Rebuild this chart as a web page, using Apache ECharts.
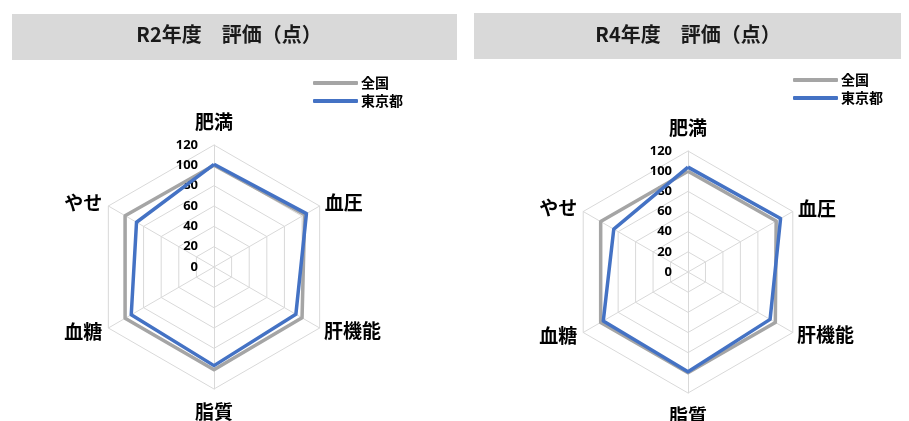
<!DOCTYPE html>
<html>
<head>
<meta charset="utf-8">
<script src="https://cdn.jsdelivr.net/npm/echarts@6.0.0/dist/echarts.min.js"></script>
<style>
  html, body { margin: 0; padding: 0; background: #fff; }
  #radar-chart { width: 909px; height: 421px; }
</style>
</head>
<body>
<div id="radar-chart"></div>
<script>
// categories listed clockwise from the top
var categories = ['肥満', '血圧', '肝機能', '脂質', '血糖', 'やせ'];
var seriesNames = ['全国', '東京都'];
var r2National = [100, 103, 100, 101, 101, 101];
var r2Tokyo = [101, 105, 93, 97, 94, 88];
var r4National = [100, 101, 100, 100, 100, 100];
var r4Tokyo = [104, 106, 94, 99, 97, 85];
var tickLabels = ['0', '20', '40', '60', '80', '100', '120'];
var titles = ['R2年度　評価（点）', 'R4年度　評価（点）'];

var fontJP = '"Noto Sans CJK JP", "Noto Sans", sans-serif';
var gridColor = '#d9d9d9';
var colors = ['#a5a5a5', '#4472c4'];
// gap between each axis end and its name, clockwise from the top
var nameGaps = [14, 6, 5, 13, 7, 7];

// echarts lays radar axes out counter-clockwise, so walk the list backwards after the top one
function toDrawOrder(list) {
  return [list[0]].concat(list.slice(1).reverse());
}

function buildIndicators() {
  var maxValue = Number(tickLabels[tickLabels.length - 1]);
  var inds = categories.map(function (name, i) {
    var ind = { name: name, min: 0, max: maxValue, nameGap: nameGaps[i] };
    if (i === 0) {
      ind.axisLabel = {
        show: true,
        margin: 16,
        fontFamily: '"Open Sans", sans-serif',
        fontWeight: 'bold',
        fontSize: 13,
        color: '#000',
        formatter: function (v) {
          return tickLabels[Math.round(v / 20)];
        }
      };
    }
    return ind;
  });
  return toDrawOrder(inds);
}

function buildRadar(center, radius) {
  return {
    center: center,
    radius: radius,
    startAngle: 90,
    shape: 'polygon',
    splitNumber: tickLabels.length - 1,
    indicator: buildIndicators(),
    axisName: {
      color: '#000',
      fontFamily: fontJP,
      fontSize: 19,
      fontWeight: 'bold'
    },
    axisLine: { lineStyle: { color: gridColor, width: 1 } },
    splitLine: { lineStyle: { color: gridColor, width: 1 } },
    splitArea: { show: false },
    axisTick: { show: false },
    axisLabel: { show: false }
  };
}

function buildSeries(radarIndex, national, tokyo) {
  return {
    type: 'radar',
    radarIndex: radarIndex,
    symbol: 'none',
    silent: true,
    data: [
      {
        name: seriesNames[0],
        value: toDrawOrder(national),
        itemStyle: { color: colors[0] },
        lineStyle: { color: colors[0], width: 3.5 }
      },
      {
        name: seriesNames[1],
        value: toDrawOrder(tokyo),
        itemStyle: { color: colors[1] },
        lineStyle: { color: colors[1], width: 3.5 }
      }
    ]
  };
}

function buildLegend(left, top) {
  return {
    data: seriesNames,
    orient: 'vertical',
    left: left,
    top: top,
    padding: 0,
    itemGap: 4,
    itemWidth: 45,
    itemHeight: 4,
    icon: 'roundRect',
    selectedMode: false,
    textStyle: {
      fontFamily: fontJP,
      fontSize: 14,
      fontWeight: 'bold',
      color: '#000',
      padding: [0, 0, 0, -2]
    }
  };
}

function buildTitle(text, centerX) {
  return {
    text: text,
    left: centerX,
    top: 24,
    padding: 0,
    textAlign: 'center',
    textStyle: {
      fontFamily: fontJP,
      fontSize: 20,
      fontWeight: 'bold',
      color: '#1a1a1a'
    }
  };
}

var chart = echarts.init(document.getElementById('radar-chart'));
chart.setOption({
  animation: false,
  graphic: [
    { type: 'rect', shape: { x: 12, y: 14, width: 445, height: 46 }, style: { fill: '#d9d9d9' }, z: -1 },
    { type: 'rect', shape: { x: 474, y: 13, width: 427, height: 46 }, style: { fill: '#d9d9d9' }, z: -1 }
  ],
  title: [buildTitle(titles[0], 229), buildTitle(titles[1], 688)],
  legend: [buildLegend(313, 76), buildLegend(793, 73)],
  radar: [buildRadar([214, 267], 122), buildRadar([688, 272], 121)],
  series: [buildSeries(0, r2National, r2Tokyo), buildSeries(1, r4National, r4Tokyo)]
});
</script>
</body>
</html>
